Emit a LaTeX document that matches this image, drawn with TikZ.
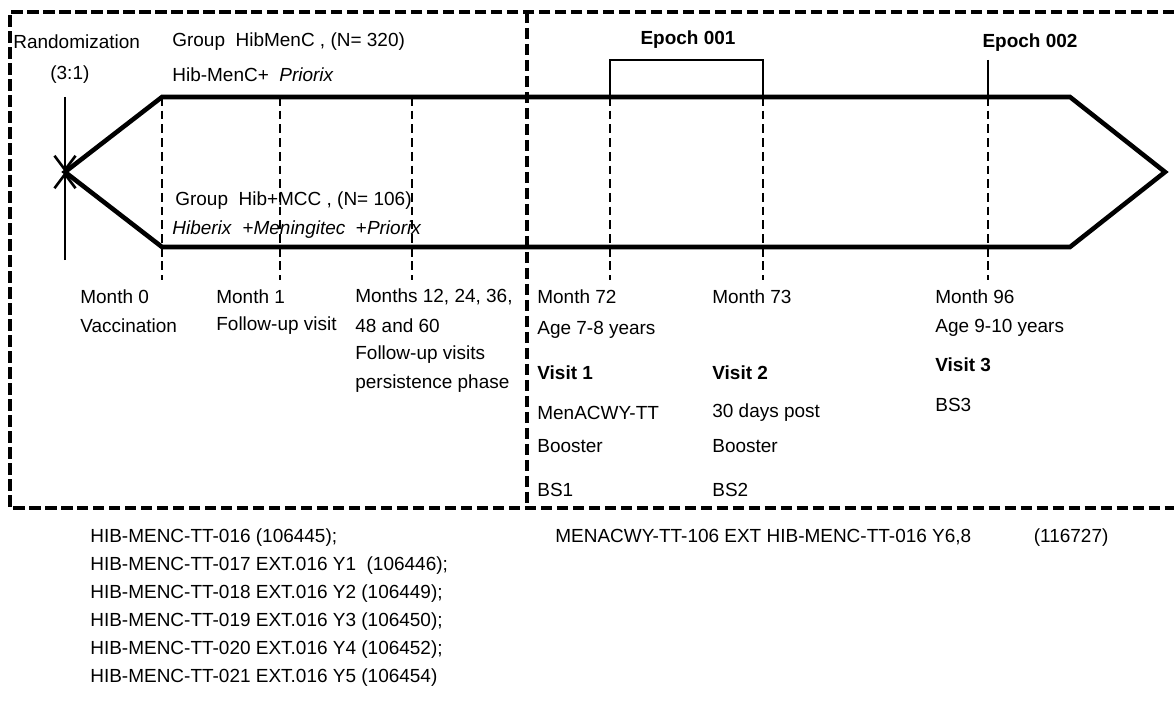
\documentclass[tikz,border=0pt]{standalone}
\usepackage{fontspec}
\setmainfont{Liberation Sans}
\usetikzlibrary{arrows.meta}

\tikzset{
  box/.style={line width=2.3pt, dash pattern=on 6.5pt off 2.6pt},
  arm/.style={line width=2.6pt},
  visit/.style={line width=1.1pt, dash pattern=on 5pt off 2.8pt},
  epoch/.style={line width=1pt},
  lbl/.style={anchor=west, inner sep=0pt, font=\fontsize{10.8}{12}\selectfont},
  hdr/.style={inner sep=0pt, font=\fontsize{10.8}{12}\selectfont\bfseries},
}

\begin{document}
\begin{tikzpicture}
    \useasboundingbox (0,0) rectangle (23.48,14.22);

    % ramecek
    \draw[box] (23.48,13.98) -- (0.2,13.98) -- (0.2,4.06) -- (23.48,4.06);
    \draw[box] (10.54,13.98) -- (10.54,4.06);

    % rameno studie
    \coordinate (tipL) at (1.3,10.78);
    \coordinate (nw) at (3.24,12.28);
    \coordinate (ne) at (21.4,12.28);
    \coordinate (tipR) at (23.3,10.78);
    \coordinate (se) at (21.4,9.28);
    \coordinate (sw) at (3.24,9.28);
    \draw[arm] (tipL) -- (nw) -- (ne) -- (tipR) -- (se) -- (sw) -- cycle;

    % randomizace
    \coordinate (rtop) at (1.3,12.28);
    \coordinate (rbot) at (1.3,9.02);
    \draw[line width=1.5pt, -{Straight Barb[length=8pt,width=12pt]}] (rtop) -- (tipL);
    \draw[line width=1.5pt, -{Straight Barb[length=8pt,width=12pt]}] (rbot) -- (tipL);

    % navstevy
    \foreach \x in {3.24,5.6,8.24,12.2,15.26,19.76}
        \draw[visit] (\x,12.28) -- (\x,8.62);

    % epochy
    \node[hdr] (ep1) at (13.76,13.42) {Epoch 001};
    \node[hdr] (ep2) at (20.6,13.36) {Epoch 002};
    \coordinate (e1a) at (12.2,13.02);
    \coordinate (e1b) at (15.26,13.02);
    \coordinate (e2) at (19.76,13.02);
    \draw[epoch] (e1a |- nw) -- (e1a) -- (e1b) -- (e1b |- nw);
    \draw[epoch] (e2) -- (e2 |- nw);

    % skupiny
    \node[lbl] (rand) at (0.26,13.38) {Randomization};
    \node[lbl] (ratio) at (1.0,12.72) {(3:1)};
    \node[lbl] (g1) at (3.44,13.38) {Group~ HibMenC , (N= 320)};
    \node[lbl] (v1) at (3.44,12.72) {Hib-MenC+ ~\textit{Priorix}};
    \node[lbl] (g2) at (3.5,10.2) {Group~ Hib+MCC , (N= 106)};
    \node[lbl] (v2) at (3.44,9.62) {\textit{Hiberix} ~+\textit{Meningitec} ~+\textit{Priorix}};

    % casove body
    \node[lbl] (m0) at (1.6,8.28) {Month 0};
    \node[lbl] (m0b) at (1.6,7.70) {Vaccination};
    \node[lbl] (m1) at (4.32,8.28) {Month 1};
    \node[lbl] (m1b) at (4.32,7.70) {Follow-up visit};
    \node[lbl] (m12) at (7.1,8.28) {Months 12, 24, 36,};
    \node[lbl] (m12b) at (7.1,7.70) {48 and 60};
    \node[lbl] (m12c) at (7.1,7.12) {Follow-up visits};
    \node[lbl] (m12d) at (7.1,6.54) {persistence phase};

    \node[lbl] (m72) at (10.74,8.28) {Month 72};
    \node[lbl] (m72b) at (10.74,7.62) {Age 7-8 years};
    \node[lbl, font=\fontsize{10.8}{12}\selectfont\bfseries] (m72c) at (10.74,6.76) {Visit 1};
    \node[lbl] (m72d) at (10.74,5.96) {MenACWY-TT};
    \node[lbl] (m72e) at (10.74,5.30) {Booster};
    \node[lbl] (m72f) at (10.74,4.42) {BS1};

    \node[lbl] (m73) at (14.24,8.28) {Month 73};
    \node[lbl, font=\fontsize{10.8}{12}\selectfont\bfseries] (m73c) at (14.24,6.76) {Visit 2};
    \node[lbl] (m73d) at (14.24,5.96) {30 days post};
    \node[lbl] (m73e) at (14.24,5.30) {Booster};
    \node[lbl] (m73f) at (14.24,4.42) {BS2};

    \node[lbl] (m96) at (18.7,8.28) {Month 96};
    \node[lbl] (m96b) at (18.7,7.66) {Age 9-10 years};
    \node[lbl, font=\fontsize{10.8}{12}\selectfont\bfseries] (m96c) at (18.7,6.92) {Visit 3};
    \node[lbl] (m96d) at (18.7,6.12) {BS3};

    % studie
    \node[lbl] (s16) at (1.8,3.46) {HIB-MENC-TT-016 (106445);};
    \node[lbl] (s17) at (1.8,2.90) {HIB-MENC-TT-017 EXT.016 Y1 ~(106446);};
    \node[lbl] (s18) at (1.8,2.34) {HIB-MENC-TT-018 EXT.016 Y2 (106449);};
    \node[lbl] (s19) at (1.8,1.78) {HIB-MENC-TT-019 EXT.016 Y3 (106450);};
    \node[lbl] (s20) at (1.8,1.22) {HIB-MENC-TT-020 EXT.016 Y4 (106452);};
    \node[lbl] (s21) at (1.8,0.66) {HIB-MENC-TT-021 EXT.016 Y5 (106454)};
    \node[lbl] (s106) at (11.1,3.46) {MENACWY-TT-106 EXT HIB-MENC-TT-016 Y6,8\hspace{3.3em}(116727)};
\end{tikzpicture}
\end{document}
